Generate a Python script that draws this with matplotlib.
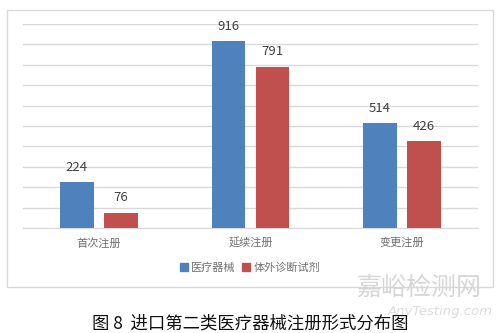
import numpy as np
import matplotlib.pyplot as plt
from matplotlib.patches import Rectangle, Patch

plt.rcParams['font.family'] = ['Noto Sans CJK SC', 'DejaVu Sans']

# data
categories = ['首次注册', '延续注册', '变更注册']
series_names = ['医疗器械', '体外诊断试剂']
devices = [224, 916, 514]
ivd = [76, 791, 426]

blue = '#4F81BD'
red = '#C0504D'

fig = plt.figure(figsize=(5, 3.33), dpi=100)

# outer chart frame
fig.patches.append(Rectangle((0.014, 0.138), 0.972, 0.832, transform=fig.transFigure,
                             fill=False, edgecolor='#d9d9d9', linewidth=1.0))

ax = fig.add_axes([0.046, 0.3153, 0.91, 0.6126])
x = np.arange(len(categories))
w = 0.22
off = 0.145
b1 = ax.bar(x - off, devices, w, color=blue, zorder=3)
b2 = ax.bar(x + off, ivd, w, color=red, zorder=3)

for bars, vals in [(b1, devices), (b2, ivd)]:
    for rect, v in zip(bars, vals):
        ax.text(rect.get_x() + rect.get_width() / 2, v + 40, str(v),
                ha='center', va='bottom', fontsize=9.5, color='#404040')

ax.set_xlim(-0.5, 2.5)
ax.set_ylim(0, 1000)
ax.set_yticks(np.arange(0, 1001, 100))
ax.yaxis.grid(True, color='#d9d9d9', linewidth=1.0, zorder=0)
ax.set_yticklabels([])
ax.tick_params(axis='y', length=0)
ax.set_xticks(x)
ax.set_xticklabels(categories, fontsize=8, color='#707070')
ax.tick_params(axis='x', length=0, pad=7)
for s in ['top', 'right', 'left']:
    ax.spines[s].set_visible(False)
ax.spines['bottom'].set_color('#d9d9d9')

handles = [Patch(color=blue), Patch(color=red)]
fig.legend(handles, series_names, loc='center', bbox_to_anchor=(0.5, 0.195), ncol=2,
           frameon=False, fontsize=8, labelcolor='#707070', handlelength=0.7,
           handleheight=0.7, handletextpad=0.3, columnspacing=0.6)

# watermark
fig.text(0.838, 0.135, '嘉峪检测网', ha='center', va='center', fontsize=18,
         color='#d6d6d6')
fig.text(0.88, 0.066, 'AnyTesting.com', ha='center', va='center', fontsize=9.5,
         color='#dcdcdc', style='italic', family='DejaVu Sans')

fig.text(0.5, 0.028, '图 8  进口第二类医疗器械注册形式分布图', ha='center', va='center',
         fontsize=12.5, color='#111111')

fig.savefig('out.png', dpi=100)
